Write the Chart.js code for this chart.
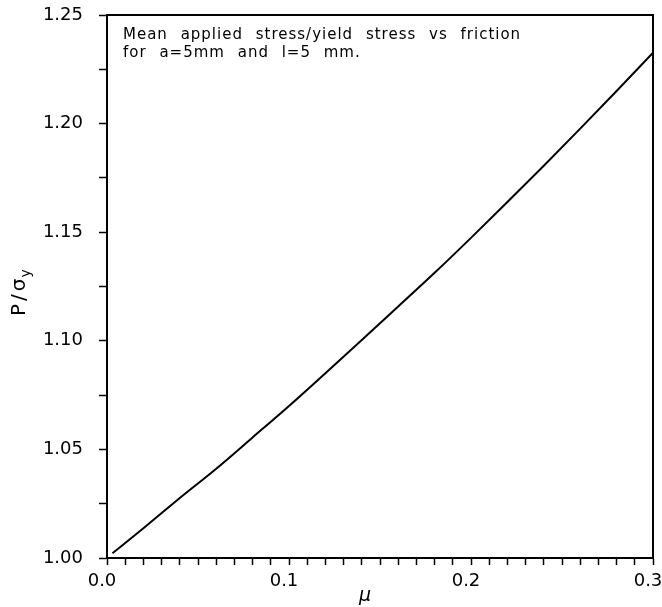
<!DOCTYPE html>
<html>
<head>
<meta charset="utf-8">
<script src="https://cdn.jsdelivr.net/npm/chart.js@4.4.1/dist/chart.umd.min.js"></script>
<style>
  html, body { margin: 0; padding: 0; background: #fff; }
  canvas { display: block; }
</style>
</head>
<body>
<canvas id="c" width="662" height="607"></canvas>
<script>
// Friction coefficient (mu) and normalised mean applied stress p/sigma_y
const mu = [0.003, 0.02, 0.04, 0.06, 0.08, 0.10, 0.12, 0.14, 0.16, 0.18, 0.20, 0.22, 0.24, 0.26, 0.28, 0.30];
const stressRatio = [1.0022, 1.0137, 1.0276, 1.0411, 1.0555, 1.0700, 1.0851, 1.1004, 1.1158, 1.1313, 1.1474, 1.1639, 1.1806, 1.1977, 1.2150, 1.2326];

// Axis ranges and labelled ticks
const xRange = [0, 0.3];
const xMinorStep = 0.01;
const xLabelStep = 0.1;
const yRange = [1.0, 1.25];
const yMinorStep = 0.025;
const yLabelStep = 0.05;

const noteLines = ['Mean applied stress/yield stress vs friction', 'for a=5mm and l=5 mm.'];
const xTitle = 'μ';
const yTitleMain = 'P/σ';
const yTitleSub = 'y';

const FONT = "'DejaVu Sans', sans-serif";

function isMultiple(v, step) {
  const r = v / step;
  return Math.abs(r - Math.round(r)) < 1e-6;
}

// Frame, note text and axis titles
const decorations = {
  id: 'decorations',
  afterDraw(chart) {
    const ctx = chart.ctx;
    const a = chart.chartArea;
    ctx.save();
    // top and right edges of the frame
    ctx.strokeStyle = '#000';
    ctx.lineWidth = 2;
    ctx.beginPath();
    ctx.moveTo(a.left, a.top);
    ctx.lineTo(a.right, a.top);
    ctx.lineTo(a.right, a.bottom);
    ctx.stroke();

    // note in the upper-left corner
    ctx.fillStyle = '#000';
    ctx.font = '15px ' + FONT;
    ctx.textBaseline = 'alphabetic';
    ctx.textAlign = 'left';
    ctx.letterSpacing = '1px';
    ctx.wordSpacing = '7px';
    noteLines.forEach((line, i) => {
      ctx.fillText(line, a.left + 16, a.top + 24 + i * 18);
    });
    ctx.letterSpacing = '0px';
    ctx.wordSpacing = '0px';

    // x-axis title
    ctx.font = 'italic 19px ' + FONT;
    ctx.textAlign = 'center';
    ctx.textBaseline = 'middle';
    ctx.fillText(xTitle, 365, 596);

    // y-axis title, rotated, with subscript
    ctx.translate(25, 316);
    ctx.rotate(-Math.PI / 2);
    ctx.textAlign = 'left';
    ctx.textBaseline = 'alphabetic';
    ctx.font = '20px ' + FONT;
    ctx.letterSpacing = '3px';
    ctx.fillText(yTitleMain, 0, 0);
    const mw = ctx.measureText(yTitleMain).width;
    ctx.font = '14px ' + FONT;
    ctx.letterSpacing = '0px';
    ctx.fillText(yTitleSub, mw - 2, 5);
    ctx.restore();
  }
};

new Chart(document.getElementById('c'), {
  type: 'line',
  data: {
    datasets: [{
      data: mu.map((m, i) => ({ x: m, y: stressRatio[i] })),
      borderColor: '#000',
      borderWidth: 2,
      pointRadius: 0,
      fill: false,
      cubicInterpolationMode: 'monotone'
    }]
  },
  options: {
    responsive: false,
    animation: false,
    devicePixelRatio: 1,
    layout: { padding: { top: 15, right: 9, left: 0, bottom: 0 } },
    plugins: { legend: { display: false }, tooltip: { enabled: false } },
    scales: {
      x: {
        type: 'linear',
        min: xRange[0],
        max: xRange[1],
        afterFit(s) { s.height = 49; s.paddingLeft = 0; s.paddingRight = 0; },
        grid: { drawOnChartArea: false, drawTicks: true, tickLength: 7, color: '#000', tickWidth: 1.5 },
        border: { display: true, color: '#000', width: 2 },
        ticks: {
          stepSize: xMinorStep,
          maxTicksLimit: 100,
          autoSkip: false,
          maxRotation: 0,
          padding: 6,
          labelOffset: -5,
          color: '#000',
          font: { family: FONT, size: 18 },
          callback: v => isMultiple(v, xLabelStep) ? v.toFixed(1) : ''
        }
      },
      y: {
        type: 'linear',
        min: yRange[0],
        max: yRange[1],
        afterFit(s) { s.width = 107; s.paddingTop = 0; s.paddingBottom = 0; },
        grid: { drawOnChartArea: false, drawTicks: true, tickLength: 8, color: '#000', tickWidth: 1.5 },
        border: { display: true, color: '#000', width: 2 },
        ticks: {
          stepSize: yMinorStep,
          maxTicksLimit: 100,
          autoSkip: false,
          padding: 16,
          color: '#000',
          font: { family: FONT, size: 18 },
          callback: v => isMultiple(v, yLabelStep) ? v.toFixed(2) : ''
        }
      }
    }
  },
  plugins: [decorations]
});
</script>
</body>
</html>
